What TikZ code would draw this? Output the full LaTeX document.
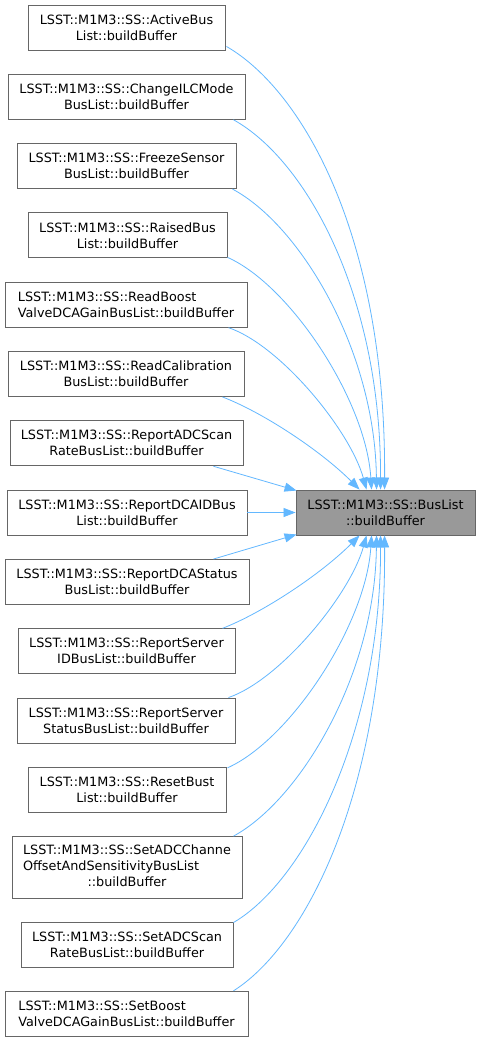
\documentclass[tikz,border=0pt]{standalone}
\usepackage{fontspec}
\setmainfont{DejaVu Sans}
\usetikzlibrary{arrows.meta,calc}
\definecolor{edgeblue}{HTML}{63B8FF}
\definecolor{boxborder}{HTML}{666666}
\definecolor{tgtfill}{HTML}{999999}
\begin{document}
\begin{tikzpicture}[x=1pt,y=-1pt,
  fnbox/.style={draw=boxborder, fill=white, line width=0.9pt, inner sep=0pt,
    align=center, minimum height=45pt, font=\fontsize{12.8}{16}\selectfont},
  tgtbox/.style={fnbox, fill=tgtfill},
  leftbox/.style={fnbox, align=left},
  calledge/.style={draw=edgeblue, line width=0.8pt, -{Triangle[length=12pt,width=9pt]}}]
\useasboundingbox[fill=white] (0,0) rectangle (480,1042);

\node[fnbox, minimum width=197pt] (n1) at (126.5,27.5) {LSST::M1M3::SS::ActiveBus\\List::buildBuffer};
\node[fnbox, minimum width=237pt] (n2) at (126.5,96.8) {LSST::M1M3::SS::ChangeILCMode\\BusList::buildBuffer};
\node[fnbox, minimum width=219pt] (n3) at (126.5,166.1) {LSST::M1M3::SS::FreezeSensor\\BusList::buildBuffer};
\node[fnbox, minimum width=199pt] (n4) at (127.5,235.4) {LSST::M1M3::SS::RaisedBus\\List::buildBuffer};
\node[leftbox, minimum width=242pt] (n5) at (126,304.7) {LSST::M1M3::SS::ReadBoost\\ValveDCAGainBusList::buildBuffer};
\node[fnbox, minimum width=236pt] (n6) at (126,374) {LSST::M1M3::SS::ReadCalibration\\BusList::buildBuffer};
\node[fnbox, minimum width=233pt] (n7) at (126.5,443.3) {LSST::M1M3::SS::ReportADCScan\\RateBusList::buildBuffer};
\node[fnbox, minimum width=240pt] (n8) at (127,512.5) {LSST::M1M3::SS::ReportDCAIDBus\\List::buildBuffer};
\node[fnbox, minimum width=244pt] (n9) at (127,582) {LSST::M1M3::SS::ReportDCAStatus\\BusList::buildBuffer};
\node[fnbox, minimum width=217pt] (n10) at (126.5,651.3) {LSST::M1M3::SS::ReportServer\\IDBusList::buildBuffer};
\node[fnbox, minimum width=218pt] (n11) at (126,720.5) {LSST::M1M3::SS::ReportServer\\StatusBusList::buildBuffer};
\node[fnbox, minimum width=198pt] (n12) at (127,789.8) {LSST::M1M3::SS::ResetBust\\List::buildBuffer};
\node[fnbox, minimum width=230pt, minimum height=62pt] (n13) at (127,867.6) {\begin{tabular}{@{}l@{}}LSST::M1M3::SS::SetADCChanne\\OffsetAndSensitivityBusList\\\multicolumn{1}{@{}c@{}}{::buildBuffer}\end{tabular}};
\node[fnbox, minimum width=212pt] (n14) at (127,944.5) {LSST::M1M3::SS::SetADCScan\\RateBusList::buildBuffer};
\node[leftbox, minimum width=243pt] (n15) at (126.5,1013.8) {LSST::M1M3::SS::SetBoost\\ValveDCAGainBusList::buildBuffer};

\node[tgtbox, minimum width=179pt] (t) at (385.5,512.5) {LSST::M1M3::SS::BusList\\::buildBuffer};

% upper callers
\draw[calledge] ($(n1.south east)+(1,-4)$) .. controls (302,90) and (386,235) .. ($(t.north west)+(89,0)$);
\draw[calledge] ($(n2.south east)+(-12,0)$) .. controls (306,160) and (381,295) .. ($(t.north west)+(85,0)$);
\draw[calledge] ($(n3.south east)+(-4,0)$) .. controls (300,225) and (375,350) .. ($(t.north west)+(81,0)$);
\draw[calledge] ($(n4.south east)+(0,-1)$) .. controls (290,285) and (366,400) .. ($(t.north west)+(76,0)$);
\draw[calledge] ($(n5.south east)+(-19,0)$) .. controls (280,345) and (350,430) .. ($(t.north west)+(71,0)$);
\draw[calledge] ($(n6.south east)+(-22,0)$) .. controls (262,412) and (320,450) .. ($(t.north west)+(64,0)$);
% middle callers
\draw[calledge] ($(n7.south east)+(-30,0)$) -- ($(t.north west)+(1,1)$);
\draw[calledge] (n8.east) -- (t.west);
\draw[calledge] ($(n9.north east)+(-36,0)$) -- ($(t.south west)+(1,-1)$);
% lower callers
\draw[calledge] ($(n10.north east)+(-13,0)$) .. controls (262,613) and (320,575) .. ($(t.south west)+(64,0)$);
\draw[calledge] ($(n11.north east)+(-7,0)$) .. controls (280,680) and (350,595) .. ($(t.south west)+(71,0)$);
\draw[calledge] ($(n12.north east)+(1,1)$) .. controls (290,740) and (366,625) .. ($(t.south west)+(76,0)$);
\draw[calledge] ($(n13.north east)+(-9,0)$) .. controls (300,800) and (375,675) .. ($(t.south west)+(81,0)$);
\draw[calledge] ($(n14.north east)+(0,1)$) .. controls (306,880) and (381,730) .. ($(t.south west)+(85,0)$);
\draw[calledge] ($(n15.north east)+(-15,0)$) .. controls (306,945) and (386,790) .. ($(t.south west)+(89,0)$);
\end{tikzpicture}
\end{document}
